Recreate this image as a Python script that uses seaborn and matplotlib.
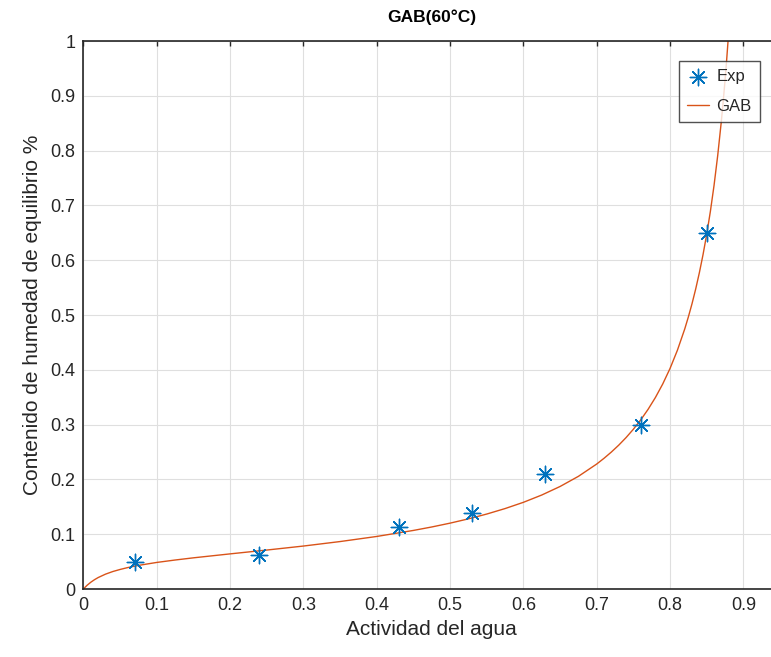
import matplotlib
matplotlib.use("Agg")
import matplotlib.pyplot as plt
import seaborn as sns
import pandas as pd

# Experimental data
aw_exp = [0.07, 0.24, 0.43, 0.53, 0.63, 0.76, 0.85]
m_exp = [0.050, 0.062, 0.113, 0.139, 0.210, 0.300, 0.649]

# GAB curve values
aw_gab = [0.0, 0.0025, 0.005, 0.01, 0.015, 0.02, 0.03, 0.04, 0.05, 0.06, 0.075,
          0.1, 0.125, 0.15, 0.175, 0.2, 0.25, 0.3, 0.35, 0.4, 0.45, 0.475, 0.5,
          0.525, 0.55, 0.575, 0.6, 0.625, 0.65, 0.675, 0.7, 0.71, 0.72, 0.73,
          0.74, 0.75, 0.76, 0.77, 0.78, 0.79, 0.8, 0.81, 0.82, 0.825, 0.83,
          0.835, 0.84, 0.845, 0.85, 0.855, 0.86, 0.865, 0.87, 0.8725, 0.875,
          0.877, 0.88]
m_gab = [0.0, 0.0036, 0.0069, 0.0124, 0.0170, 0.0209, 0.0271, 0.0319, 0.0357,
         0.0390, 0.0431, 0.0485, 0.0529, 0.0569, 0.0605, 0.0641, 0.0711, 0.0784,
         0.0866, 0.0959, 0.1069, 0.1132, 0.1202, 0.1280, 0.1368, 0.1468, 0.1582,
         0.1715, 0.1871, 0.2056, 0.2281, 0.2386, 0.2500, 0.2625, 0.2763, 0.2916,
         0.3086, 0.3278, 0.3494, 0.3741, 0.4025, 0.4356, 0.4744, 0.4966, 0.5208,
         0.5476, 0.5773, 0.6103, 0.6473, 0.6890, 0.7365, 0.7910, 0.8541, 0.8897,
         0.9282, 0.9616, 1.0163]

title = "GAB(60°C)"
xlabel = "Actividad del agua"
ylabel = "Contenido de humedad de equilibrio %"
xticks = [0, 0.1, 0.2, 0.3, 0.4, 0.5, 0.6, 0.7, 0.8, 0.9]
yticks = [0, 0.1, 0.2, 0.3, 0.4, 0.5, 0.6, 0.7, 0.8, 0.9, 1]
xtick_labels = ["0", "0.1", "0.2", "0.3", "0.4", "0.5", "0.6", "0.7", "0.8", "0.9"]
ytick_labels = ["0", "0.1", "0.2", "0.3", "0.4", "0.5", "0.6", "0.7", "0.8", "0.9", "1"]

sns.set_theme(style="white")
plt.rcParams["font.family"] = ["Liberation Sans", "DejaVu Sans"]

df_exp = pd.DataFrame({"aw": aw_exp, "m": m_exp})
df_gab = pd.DataFrame({"aw": aw_gab, "m": m_gab})

fig = plt.figure(figsize=(7.71, 6.57), dpi=100)
ax = fig.add_axes([0.1083, 0.1035, 0.9034, 0.834])

dark = "#262626"
blue = "#0072BD"
orange = "#D95319"

sns.scatterplot(data=df_exp, x="aw", y="m", ax=ax, marker=(8, 2, 0), s=140,
                color=blue, edgecolor=blue, linewidth=1.0, label="Exp", zorder=3)
sns.lineplot(data=df_gab, x="aw", y="m", ax=ax, color=orange, linewidth=1.0,
             sort=False, estimator=None, label="GAB", zorder=2)

ax.set_xlim(0, 0.95)
ax.set_ylim(0, 1)
ax.set_xticks(xticks)
ax.set_xticklabels(xtick_labels)
ax.set_yticks(yticks)
ax.set_yticklabels(ytick_labels)
ax.grid(True, color="#DFDFDF", linewidth=0.8)
ax.set_axisbelow(True)
for s in ax.spines.values():
    s.set_color(dark)
    s.set_linewidth(1.2)
ax.tick_params(direction="in", length=3.5, width=1.0, color=dark, labelcolor=dark,
               labelsize=13, top=True, right=True, pad=6)
ax.set_xlabel(xlabel, fontsize=15, color=dark, labelpad=4)
ax.set_ylabel(ylabel, fontsize=15, color=dark, labelpad=6)
ax.set_title(title, fontsize=12.5, fontweight="bold", color="black", pad=14)

leg = ax.legend(loc="upper right", bbox_to_anchor=(0.986, 0.907),
                bbox_transform=fig.transFigure, borderaxespad=0, fancybox=False,
                frameon=True, fontsize=12, handlelength=1.3, handletextpad=0.45,
                borderpad=0.5, labelspacing=0.85)
leg.get_frame().set_edgecolor(dark)
leg.get_frame().set_linewidth(1.0)
for t in leg.get_texts():
    t.set_color(dark)

fig.savefig("out.png", dpi=100)
